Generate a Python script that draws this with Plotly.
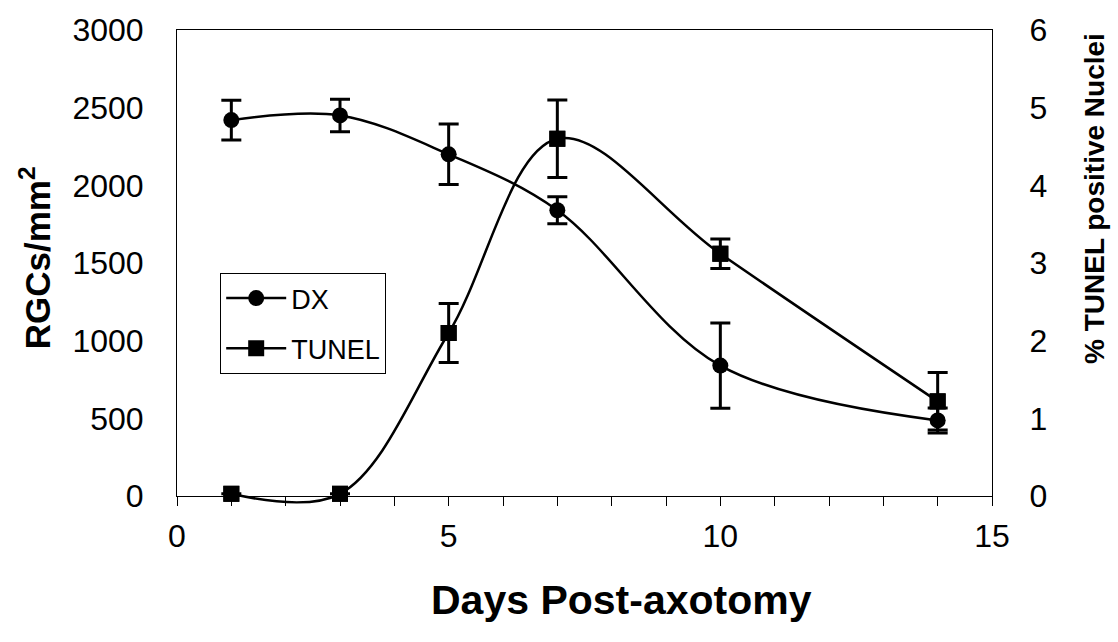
import plotly.graph_objects as go

days = [1, 3, 5, 7, 10, 14]
dx_values = [2420, 2450, 2200, 1840, 840, 487]
dx_errors = [128, 105, 195, 87, 275, 80]
tunel_values = [0.03, 0.03, 2.10, 4.60, 3.12, 1.22]
tunel_errors = [0.0, 0.0, 0.38, 0.50, 0.19, 0.37]

x_ticks = [0, 5, 10, 15]
left_ticks = [0, 500, 1000, 1500, 2000, 2500, 3000]
right_ticks = [0, 1, 2, 3, 4, 5, 6]

FONT = "Liberation Sans, Arial, sans-serif"

# plot area geometry (px): visible axes box 468 px tall; an extra strip below
# lets the smoothed TUNEL curve dip under the x axis like the original.
BOX_H = 468
EXTRA = 30
TOTAL = BOX_H + EXTRA
y_dom0 = EXTRA / TOTAL
tunel_min = -6 * EXTRA / BOX_H

fig = go.Figure()
fig.add_trace(go.Scatter(
    x=days, y=tunel_values, name="TUNEL", mode="lines+markers", yaxis="y3", legendgroup="b",
    legendrank=2,
    line=dict(color="black", width=2.5, shape="spline", smoothing=1),
    marker=dict(symbol="square", size=16, color="black"),
    error_y=dict(type="data", array=tunel_errors, visible=True, color="black", thickness=3, width=10),
    cliponaxis=False,
))
fig.add_trace(go.Scatter(
    x=days, y=dx_values, name="DX", mode="lines+markers", legendgroup="a",
    legendrank=1,
    line=dict(color="black", width=2.5, shape="spline", smoothing=1),
    marker=dict(symbol="circle", size=16, color="black"),
    error_y=dict(type="data", array=dx_errors, visible=True, color="black", thickness=3, width=10),
    cliponaxis=False,
))
fig.add_trace(go.Scatter(
    x=days, y=tunel_values, name="TUNEL", mode="markers", yaxis="y2", showlegend=False,
    legendgroup="b",
    marker=dict(symbol="square", size=16, color="black"),
    cliponaxis=False,
))

fig.update_layout(
    width=1118, height=642,
    margin=dict(l=177, r=126, t=28, b=642 - 28 - TOTAL),
    paper_bgcolor="white", plot_bgcolor="rgba(0,0,0,0)",
    showlegend=True,
    legend=dict(
        x=0.053, y=(526 - 272) / TOTAL, xanchor="left", yanchor="top",
        bgcolor="white", bordercolor="black", borderwidth=1,
        font=dict(family=FONT, size=27, color="black"),
        itemwidth=60, tracegroupgap=12, traceorder="grouped",
    ),
    xaxis=dict(
        range=[0, 15], tickvals=x_ticks, ticktext=[str(v) for v in x_ticks],
        anchor="y",
        showgrid=False, zeroline=False,
        showline=True, linecolor="black", linewidth=1, mirror=True,
        ticks="outside", ticklen=9, tickcolor="black", tickwidth=1,
        tickfont=dict(family=FONT, size=32, color="black"),
        ticklabelstandoff=2,
        minor=dict(dtick=1, ticks="outside", ticklen=9, tickcolor="black", tickwidth=1),
    ),
    yaxis=dict(
        range=[0, 3000], tickvals=left_ticks, domain=[y_dom0, 1],
        showgrid=False, zeroline=False,
        showline=True, linecolor="black", linewidth=1,
        ticks="", tickfont=dict(family=FONT, size=32, color="black"),
        ticklabelstandoff=26,
    ),
    yaxis2=dict(
        range=[0, 6], tickvals=right_ticks, overlaying="y", side="right",
        showgrid=False, zeroline=False,
        showline=True, linecolor="black", linewidth=1,
        ticks="", tickfont=dict(family=FONT, size=32, color="black"),
        ticklabelstandoff=30,
    ),
    yaxis3=dict(
        range=[tunel_min, 6], domain=[0, 1], anchor="x",
        visible=False, showgrid=False, zeroline=False, showline=False,
    ),
    annotations=[
        dict(text="<b>Days Post-axotomy</b>", xref="paper", yref="paper",
             x=0.546, y=(526 - 600) / TOTAL, xanchor="center", yanchor="middle", showarrow=False,
             font=dict(family=FONT, size=41, color="black")),
        dict(text="<b>RGCs/mm<sup>2</sup></b>", xref="paper", yref="paper",
             x=-0.174, y=(526 - 257) / TOTAL, xanchor="center", yanchor="middle", showarrow=False,
             textangle=-90, font=dict(family=FONT, size=35, color="black")),
        dict(text="<b>% TUNEL positive Nuclei</b>", xref="paper", yref="paper",
             x=1.126, y=(526 - 197) / TOTAL, xanchor="center", yanchor="middle", showarrow=False,
             textangle=-90, font=dict(family=FONT, size=28, color="black")),
    ],
)

fig.write_html("out.html")
